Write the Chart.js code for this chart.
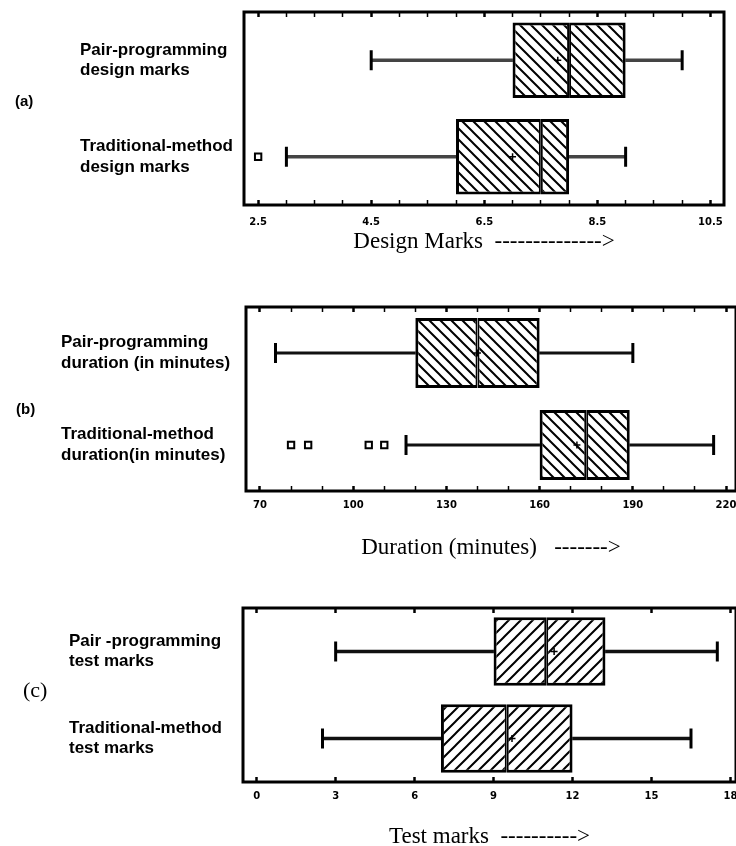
<!DOCTYPE html>
<html>
<head>
<meta charset="utf-8">
<script src="https://cdn.jsdelivr.net/npm/chart.js@4.4.1/dist/chart.umd.min.js"></script>
<style>
  body { margin: 0; background: #fff; width: 736px; height: 846px; position: relative; overflow: hidden; }
  .panel { position: absolute; left: 0; width: 736px; }
  .tag { position: absolute; color: #000; transform: translateY(-50%); white-space: nowrap; }
</style>
</head>
<body>
<div class="panel" style="top:0;height:265px"><canvas id="chart-a"></canvas></div>
<div class="panel" style="top:265px;height:300px"><canvas id="chart-b"></canvas></div>
<div class="panel" style="top:565px;height:290px"><canvas id="chart-c"></canvas></div>
<div class="tag" style="left:15px;top:100px;font:bold 15px 'Liberation Sans'">(a)</div>
<div class="tag" style="left:16px;top:408px;font:bold 15px 'Liberation Sans'">(b)</div>
<div class="tag" style="left:23px;top:690px;font:22px 'Liberation Serif'">(c)</div>
<script>
// (a) design marks  ("|" splits a label into two lines)
var labels_a = ['Pair-programming|design marks', 'Traditional-method|design marks'];
var min_a = [4.5, 3.0];
var q1_a = [7.0, 6.0];
var median_a = [8.0, 7.5];
var q3_a = [9.0, 8.0];
var max_a = [10.0, 9.0];
var mean_a = [7.8, 7.0];
var outliers_a = [[], [2.5]];
var major_a = [2.5, 4.5, 6.5, 8.5, 10.5];

// (b) duration
var labels_b = ['Pair-programming|duration (in minutes)', 'Traditional-method|duration(in minutes)'];
var min_b = [75, 117];
var q1_b = [120, 160];
var median_b = [140, 175];
var q3_b = [160, 189];
var max_b = [190, 216];
var mean_b = [140, 172];
var outliers_b = [[], [80, 85.5, 105, 110]];
var major_b = [70, 100, 130, 160, 190, 220];

// (c) test marks
var labels_c = ['Pair -programming|test marks', 'Traditional-method|test marks'];
var min_c = [3, 2.5];
var q1_c = [9, 7];
var median_c = [11, 9.5];
var q3_c = [13.25, 12];
var max_c = [17.5, 16.5];
var mean_c = [11.3, 9.7];
var outliers_c = [[], []];
var major_c = [0, 3, 6, 9, 12, 15, 18];

// frame around the plot area
var framePlugin = {
    id: 'frame',
    afterDatasetsDraw: function(chart) {
        var a = chart.chartArea;
        var ctx = chart.ctx;
        ctx.save();
        ctx.lineWidth = 3;
        ctx.strokeStyle = '#000';
        ctx.strokeRect(a.left, a.top, a.right - a.left, a.bottom - a.top);
        ctx.restore();
    }
};

function makeHatch(ctx, size, forward) {
    var c = document.createElement('canvas');
    c.width = size;
    c.height = size;
    var g = c.getContext('2d');
    g.fillStyle = '#fff';
    g.fillRect(0, 0, size, size);
    g.strokeStyle = '#000';
    g.lineWidth = 2;
    g.beginPath();
    if (forward) {
        g.moveTo(-1, size + 1); g.lineTo(size + 1, -1);
        g.moveTo(-1, 1); g.lineTo(1, -1);
        g.moveTo(size - 1, size + 1); g.lineTo(size + 1, size - 1);
    } else {
        g.moveTo(-1, -1); g.lineTo(size + 1, size + 1);
        g.moveTo(size - 1, -1); g.lineTo(size + 1, 1);
        g.moveTo(-1, size - 1); g.lineTo(1, size + 1);
    }
    g.stroke();
    return ctx.createPattern(c, 'repeat');
}

function boxChart(id, d) {
    var canvas = document.getElementById(id);
    var hatch = makeHatch(canvas.getContext('2d'), d.hatchSize, d.forward);
    var isMajor = function(v) {
        return d.major.some(function(m) { return Math.abs(m - v) < 1e-6; });
    };
    // points keyed by the category label so the category scale places them
    var pts = function(arr) {
        return arr.map(function(v, i) { return {x: v, y: d.labels[i]}; });
    };
    var range = function(a, b) {
        return a.map(function(v, i) { return [v, b[i]]; });
    };
    var outl = [];
    d.outliers.forEach(function(list, i) {
        list.forEach(function(v) { outl.push({x: v, y: d.labels[i]}); });
    });

    var boxCommon = {
        backgroundColor: hatch,
        borderColor: '#000',
        borderSkipped: false,
        grouped: false,
        barPercentage: d.boxPct,
        categoryPercentage: 1,
        xAxisID: 'x', yAxisID: 'y'
    };
    var whiskerCommon = {
        backgroundColor: d.whiskerColor,
        borderWidth: 0,
        barThickness: d.whiskerWidth,
        grouped: false,
        xAxisID: 'x', yAxisID: 'y'
    };
    var tickWidth = function(ctx) { return isMajor(ctx.tick.value) ? 2.5 : 1.5; };

    return new Chart(canvas, {
        type: 'bar',
        data: {
            labels: d.labels,
            datasets: [
                {type: 'line', data: pts(d.mean), showLine: false, pointStyle: 'cross', pointRadius: 3.5,
                 pointBorderWidth: 1.5, pointBorderColor: '#000', xAxisID: 'x', yAxisID: 'y'},
                {type: 'line', data: pts(d.min), showLine: false, pointStyle: 'line',
                 pointRotation: 90, pointRadius: 10, pointBorderWidth: 3, pointBorderColor: '#000', xAxisID: 'x', yAxisID: 'y'},
                {type: 'line', data: pts(d.max), showLine: false, pointStyle: 'line',
                 pointRotation: 90, pointRadius: 10, pointBorderWidth: 3, pointBorderColor: '#000', xAxisID: 'x', yAxisID: 'y'},
                {type: 'line', data: outl, showLine: false, pointStyle: 'rect', pointRadius: 4.5,
                 pointBorderWidth: 2, pointBorderColor: '#000', pointBackgroundColor: '#fff', xAxisID: 'x', yAxisID: 'y'},
                Object.assign({data: range(d.q1, d.median), borderWidth: {left: 3, top: 3, bottom: 3, right: 2}}, boxCommon),
                Object.assign({data: range(d.median, d.q3), borderWidth: {left: 2, top: 3, bottom: 3, right: 3}}, boxCommon),
                Object.assign({data: range(d.min, d.q1)}, whiskerCommon),
                Object.assign({data: range(d.q3, d.max)}, whiskerCommon)
            ]
        },
        options: {
            indexAxis: 'y',
            responsive: true,
            maintainAspectRatio: false,
            animation: false,
            events: [],
            layout: {padding: d.padding, autoPadding: false},
            plugins: {
                legend: {display: false},
                tooltip: {enabled: false}
            },
            scales: {
                x: {
                    type: 'linear',
                    position: 'bottom',
                    min: d.xMin,
                    max: d.xMax,
                    beginAtZero: false,
                    border: {display: false},
                    grid: {drawOnChartArea: false, drawTicks: true, tickLength: -5, tickColor: '#000', tickWidth: tickWidth},
                    ticks: {
                        stepSize: d.step,
                        includeBounds: false,
                        autoSkip: false,
                        maxRotation: 0,
                        padding: d.tickPad,
                        color: '#000',
                        font: {family: 'DejaVu Sans', size: 10, weight: 'bold'},
                        callback: function(v) { return isMajor(v) ? d.fmt(v) : ''; }
                    },
                    title: {
                        display: true,
                        text: d.title,
                        color: '#000',
                        font: {family: 'Liberation Serif', size: 23},
                        padding: {top: 0, bottom: d.titlePad}
                    },
                    afterFit: function(s) {
                        s.height = d.xHeight;
                        s.paddingLeft = 0;
                        s.paddingRight = 0;
                    }
                },
                x2: {
                    type: 'linear',
                    position: 'top',
                    min: d.xMin,
                    max: d.xMax,
                    beginAtZero: false,
                    border: {display: false},
                    grid: {drawOnChartArea: false, drawTicks: true, tickLength: -5, tickColor: '#000', tickWidth: tickWidth},
                    ticks: {stepSize: d.step, includeBounds: false, autoSkip: false, display: false},
                    afterFit: function(s) {
                        s.height = 0;
                        s.paddingLeft = 0;
                        s.paddingRight = 0;
                    }
                },
                y: {
                    type: 'category',
                    position: 'left',
                    offset: true,
                    border: {display: false},
                    grid: {display: false, drawTicks: false},
                    ticks: {
                        crossAlign: 'far',
                        autoSkip: false,
                        padding: 0,
                        color: '#000',
                        font: {family: 'Liberation Sans', size: 17, weight: 'bold', lineHeight: 1.2},
                        callback: function(v) { return this.getLabelForValue(v).split('|'); }
                    },
                    afterFit: function(s) {
                        s.width = d.yWidth;
                        s.paddingTop = 0;
                        s.paddingBottom = 0;
                    }
                }
            }
        },
        plugins: [framePlugin]
    });
}

boxChart('chart-a', {
    labels: labels_a, min: min_a, q1: q1_a, median: median_a, q3: q3_a, max: max_a,
    mean: mean_a, outliers: outliers_a, major: major_a,
    fmt: function(v) { return v.toFixed(1); },
    title: 'Design Marks  -------------->',
    xMin: 2.25, xMax: 10.74, step: 0.5,
    padding: {left: 80, top: 12, right: 12, bottom: 0},
    yWidth: 164, xHeight: 60, tickPad: 16, titlePad: 9,
    boxPct: 0.78, hatchSize: 11, forward: false,
    whiskerColor: '#444', whiskerWidth: 3
});

boxChart('chart-b', {
    labels: labels_b, min: min_b, q1: q1_b, median: median_b, q3: q3_b, max: max_b,
    mean: mean_b, outliers: outliers_b, major: major_b,
    fmt: function(v) { return String(v); },
    title: 'Duration (minutes)   ------->',
    xMin: 65.5, xMax: 223.2, step: 10,
    padding: {left: 61, top: 42, right: 0, bottom: 0},
    yWidth: 185, xHeight: 74, tickPad: 13, titlePad: 3,
    boxPct: 0.76, hatchSize: 11, forward: false,
    whiskerColor: '#111', whiskerWidth: 2.5
});

boxChart('chart-c', {
    labels: labels_c, min: min_c, q1: q1_c, median: median_c, q3: q3_c, max: max_c,
    mean: mean_c, outliers: outliers_c, major: major_c,
    fmt: function(v) { return String(v); },
    title: 'Test marks  ---------->',
    xMin: -0.52, xMax: 18.21, step: 3,
    padding: {left: 69, top: 43, right: 0, bottom: 0},
    yWidth: 174, xHeight: 73, tickPad: 13, titlePad: 4,
    boxPct: 0.79, hatchSize: 12, forward: true,
    whiskerColor: '#111', whiskerWidth: 3
});
</script>
</body>
</html>
